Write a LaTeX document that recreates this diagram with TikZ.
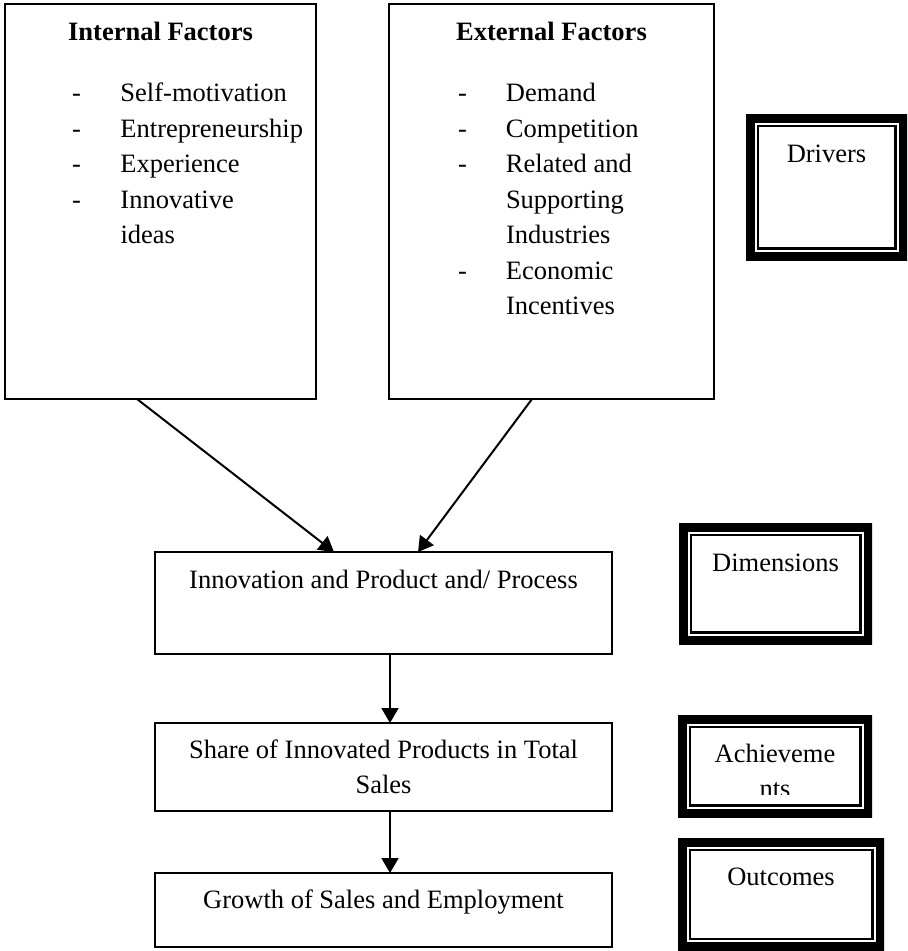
\documentclass[tikz,border=0pt]{standalone}
\usepackage{fontspec}
\setmainfont{Liberation Serif}
\usetikzlibrary{arrows.meta}
\begin{document}
\begin{tikzpicture}[x=1pt,y=-1pt,
  every node/.style={font=\fontsize{26.5}{35.5}\selectfont, inner sep=0pt, outer sep=0pt},
  plainbox/.style={draw, line width=1.8pt, anchor=north west, fill=white},
  dblbox/.style={anchor=north west, fill=white, path picture={
     \draw[line width=17pt] (path picture bounding box.south west) rectangle (path picture bounding box.north east);
     \draw[line width=2.5pt] ([shift={(11.75pt,11.75pt)}]path picture bounding box.south west) rectangle ([shift={(-11.75pt,-11.75pt)}]path picture bounding box.north east);}},
  listtext/.style={anchor=base west},
  arr/.style={line width=2pt, -{Triangle[length=15pt,width=17pt]}}
]
\useasboundingbox (0,0) rectangle (908,951);
\fill[white] (0,0) rectangle (908,951);

% factor boxes
\node[plainbox, minimum width=311, text height=36pt, text depth=359pt] (intf) at (5,4) {\bfseries Internal Factors};
\node[plainbox, minimum width=325, text height=36pt, text depth=359pt] (extf) at (389,4) {\bfseries External Factors};

\node[listtext] (intlist) at (72,101.5) {\begin{tabular}[t]{@{}p{48.5pt}@{}l@{}}
-&Self-motivation\\
-&Entrepreneurship\\
-&Experience\\
-&Innovative\\
&ideas
\end{tabular}};

\node[listtext] (extlist) at (458,101.5) {\begin{tabular}[t]{@{}p{48pt}@{}l@{}}
-&Demand\\
-&Competition\\
-&Related and\\
&Supporting\\
&Industries\\
-&Economic\\
&Incentives
\end{tabular}};

% process boxes
\node[plainbox, minimum width=457, text height=36pt, text depth=66pt] (inno) at (155,552) {Innovation and Product and/ Process};
\node[plainbox, minimum width=457, text height=35pt, text depth=53pt] (share) at (155,723) {\begin{tabular}[t]{@{}c@{}}Share of Innovated Products in Total\\Sales\end{tabular}};
\node[plainbox, minimum width=457, text height=35pt, text depth=39pt] (grow) at (155,873) {Growth of Sales and Employment};

% double-framed labels
\node[dblbox, minimum width=161, text height=48pt, text depth=98pt] (drv) at (746,114) {Drivers};
\node[dblbox, minimum width=193, text height=48pt, text depth=73pt] (dim) at (679,523) {Dimensions};
\node[dblbox, minimum width=194, minimum height=102] (ach) at (678,715) {};
\begin{scope}
  \clip ([shift={(13pt,-13pt)}]ach.north west) rectangle (859,794);
  \node[anchor=base] (achtxt) at (775,762) {\begin{tabular}[t]{@{}c@{}}Achieveme\\nts\end{tabular}};
\end{scope}
\node[dblbox, minimum width=206, text height=47pt, text depth=65.5pt] (outc) at (678,838) {Outcomes};

% connectors
\draw[arr] ([xshift=132pt]intf.south west) -- ([xshift=179pt]inno.north west);
\draw[arr] ([xshift=143pt]extf.south west) -- ([xshift=263pt]inno.north west);
\draw[arr] ([xshift=235pt]inno.south west) -- ([xshift=235pt]share.north west);
\draw[arr] ([xshift=235pt]share.south west) -- ([xshift=235pt]grow.north west);
\end{tikzpicture}
\end{document}
